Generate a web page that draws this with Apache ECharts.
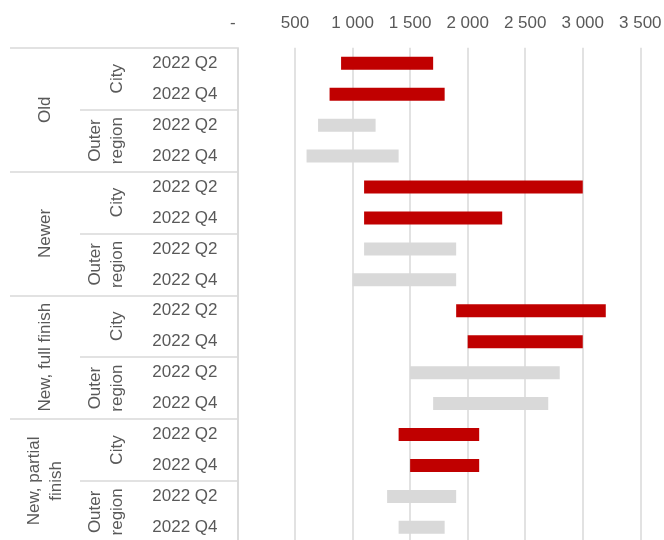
<!DOCTYPE html>
<html>
<head>
<meta charset="utf-8">
<script src="https://cdn.jsdelivr.net/npm/echarts@6/dist/echarts.min.js"></script>
<style>
  html, body { margin: 0; padding: 0; background: #fff; }
  #chart { width: 664px; height: 540px; }
</style>
</head>
<body>
<div id="chart"></div>
<script>
// Building categories, outer to inner
const groups = ['Old', 'Newer', 'New, full finish', 'New, partial\nfinish'];
const regions = ['City', 'Outer\nregion'];
const quarters = ['2022 Q2', '2022 Q4'];

// Price range per row (low and high end), rows ordered group > region > quarter
const lowValues  = [900, 800, 700, 600,   1100, 1100, 1100, 1000,  1900, 2000, 1500, 1700,  1400, 1500, 1300, 1400];
const highValues = [1700, 1800, 1200, 1400, 3000, 2300, 1900, 1900, 3200, 3000, 2800, 2700, 2100, 2100, 1900, 1800];

// X axis ticks
const xTicks = [0, 500, 1000, 1500, 2000, 2500, 3000, 3500];

const regionColors = { 'City': '#c00000', 'Outer\nregion': '#d9d9d9' };

// Flattened category lists for the three label levels
const quarterRows = [];
const regionRows = [];
const regionOfRow = [];
groups.forEach(() => {
  regions.forEach(r => {
    regionRows.push(r);
    quarters.forEach(q => { quarterRows.push(q); regionOfRow.push(r); });
  });
});

const font = "'Liberation Sans', Arial, sans-serif";
const textColor = '#595959';
const lineColor = '#d9d9d9';

const chart = echarts.init(document.getElementById('chart'), null, { renderer: 'canvas' });

// accounting-style number format: zero shows as a dash, thousands split by a space
function fmt(v) {
  if (v === 0) return '-  ';
  return String(v).replace(/\B(?=(\d{3})+(?!\d))/g, ' ');
}

const spanData = highValues.map((h, i) => ({
  value: h - lowValues[i],
  itemStyle: { color: regionColors[regionOfRow[i]] }
}));

chart.setOption({
  animation: false,
  // the plot runs a few pixels past the bottom edge of the canvas
  grid: {
    left: 237.5, top: 47.8, width: 402.8, height: 495,
    containLabel: false, outerBoundsMode: 'none'
  },
  xAxis: {
    type: 'value',
    position: 'top',
    min: xTicks[0],
    max: xTicks[xTicks.length - 1],
    interval: 500,
    axisLine: { show: false },
    axisTick: { show: false },
    axisLabel: {
      color: textColor, fontSize: 17, fontFamily: font, margin: 16,
      formatter: fmt, showMinLabel: true, showMaxLabel: true
    },
    splitLine: { show: true, lineStyle: { color: lineColor, width: 1.5 } }
  },
  yAxis: [
    {
      type: 'category',
      inverse: true,
      data: quarterRows,
      axisLine: { show: true, lineStyle: { color: lineColor, width: 1.5 } },
      axisTick: { show: false },
      axisLabel: { interval: 0, color: textColor, fontSize: 17, fontFamily: font, margin: 20 }
    },
    {
      type: 'category',
      inverse: true,
      data: regionRows,
      position: 'left',
      offset: 0,
      axisLine: { show: false },
      axisTick: { show: true, length: 157.5, lineStyle: { color: lineColor, width: 1.5 } },
      axisLabel: {
        interval: 0, rotate: 90, color: textColor, fontSize: 17, fontFamily: font,
        lineHeight: 22, align: 'center', verticalAlign: 'bottom', margin: 109
      }
    },
    {
      type: 'category',
      inverse: true,
      data: groups,
      position: 'left',
      offset: 0,
      axisLine: { show: false },
      axisTick: { show: true, length: 227.5, lineStyle: { color: lineColor, width: 1.5 } },
      axisLabel: {
        interval: 0, rotate: 90, color: textColor, fontSize: 17, fontFamily: font,
        lineHeight: 22, align: 'center', verticalAlign: 'middle', margin: 192
      }
    }
  ],
  series: [
    {
      name: 'Low',
      type: 'bar',
      stack: 'range',
      yAxisIndex: 0,
      barWidth: 13,
      itemStyle: { color: 'rgba(0,0,0,0)' },
      emphasis: { disabled: true },
      data: lowValues
    },
    {
      name: 'Range',
      type: 'bar',
      stack: 'range',
      yAxisIndex: 0,
      barWidth: 13,
      data: spanData
    }
  ]
});
</script>
</body>
</html>
